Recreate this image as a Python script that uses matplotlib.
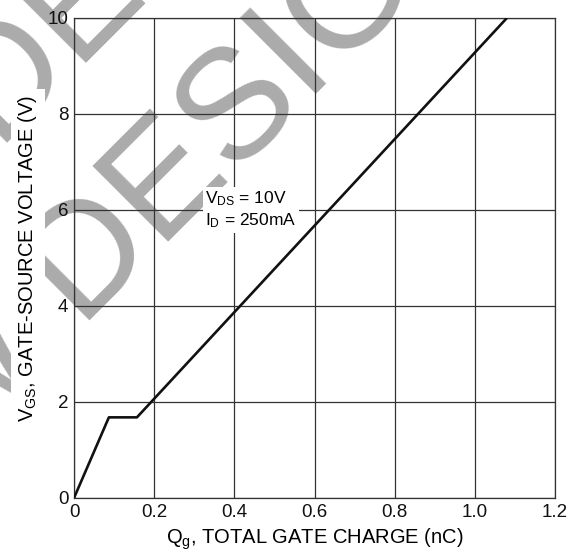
import numpy as np
import matplotlib
matplotlib.use('Agg')
from matplotlib import pyplot as plt

plt.rcParams['font.family'] = ['Liberation Sans', 'DejaVu Sans']
plt.rcParams['mathtext.fontset'] = 'custom'
plt.rcParams['mathtext.rm'] = 'Liberation Sans'
plt.rcParams['mathtext.it'] = 'Liberation Sans'
plt.rcParams['mathtext.default'] = 'regular'

# gate charge curve
qg = [0.0, 0.087, 0.157, 1.08]
vgs = [0.0, 1.68, 1.68, 10.0]

x_ticks = [0, 0.2, 0.4, 0.6, 0.8, 1.0, 1.2]
x_tick_lab = ['0', '0.2', '0.4', '0.6', '0.8', '1.0', '1.2']
y_ticks = [0, 2, 4, 6, 8, 10]

W, H = 578, 554
fig = plt.figure(figsize=(W / 100, H / 100), dpi=100)
ax = fig.add_axes([74 / W, 56 / H, 481 / W, 480 / H])

# watermark, drawn under the axes
def wm(px, py, s, ha):
    fig.text(px / W, 1 - py / H, s, fontsize=112, color='#ababab', rotation=45,
             rotation_mode='anchor', ha=ha, va='baseline', zorder=-1)

wm(77, 321, 'DESIGN', 'left')
wm(47, 351, 'NEW', 'right')
wm(78, 72, 'ED FOR', 'left')
wm(78, 72, 'NOT RECOMMEND', 'right')

ax.plot(qg, vgs, color='#111111', lw=1.9, solid_capstyle='butt', zorder=3)

ax.set_xlim(0, 1.2)
ax.set_ylim(0, 10)
ax.set_xticks(x_ticks)
ax.set_xticklabels(x_tick_lab)
ax.set_yticks(y_ticks)
ax.tick_params(length=0, labelsize=13.5, pad=4, colors='#111111')
ax.set_facecolor('none')
ax.grid(True, color='#333333', lw=0.9)
ax.set_axisbelow(True)
for s in ax.spines.values():
    s.set_color('#333333')
    s.set_linewidth(0.9)

ax.set_xlabel('$Q_g$, TOTAL GATE CHARGE (nC)', fontsize=14.5, labelpad=4)
ax.set_ylabel('$V_{GS}$, GATE-SOURCE VOLTAGE (V)', fontsize=14.5, labelpad=6,
              bbox=dict(facecolor='white', edgecolor='none', pad=4))

ax.text(0.328, 6.0, '$V_{DS}$ = 10V\n$I_D$ = 250mA', fontsize=12.5,
        ha='left', va='center', linespacing=1.25, zorder=4,
        bbox=dict(facecolor='white', edgecolor='none', pad=2))

fig.savefig('out.png', dpi=100)
